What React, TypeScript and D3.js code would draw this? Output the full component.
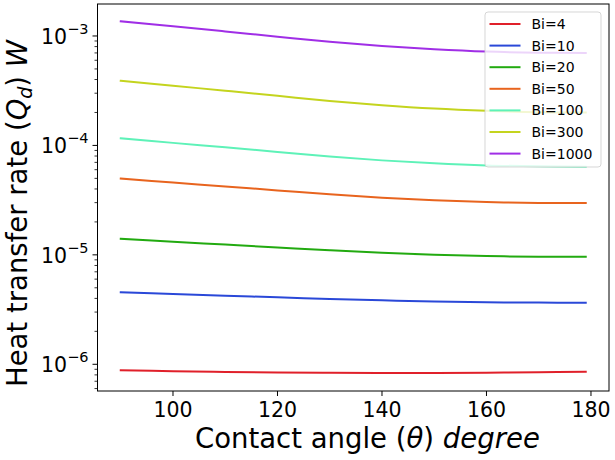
import * as d3 from 'd3'

const theta = [90, 100, 110, 120, 130, 140, 150, 160, 170, 179]

const bi4 = [8.8e-7, 8.65e-7, 8.52e-7, 8.43e-7, 8.37e-7, 8.34e-7, 8.34e-7, 8.37e-7, 8.45e-7, 8.55e-7]
const bi10 = [4.55e-6, 4.39e-6, 4.24e-6, 4.09e-6, 3.95e-6, 3.84e-6, 3.75e-6, 3.69e-6, 3.66e-6, 3.65e-6]
const bi20 = [1.4e-5, 1.318e-5, 1.242e-5, 1.168e-5, 1.1e-5, 1.043e-5, 1.0e-5, 9.74e-6, 9.63e-6, 9.6e-6]
const bi50 = [4.98e-5, 4.58e-5, 4.22e-5, 3.88e-5, 3.57e-5, 3.33e-5, 3.15e-5, 3.04e-5, 2.98e-5, 2.97e-5]
const bi100 = [1.16e-4, 1.055e-4, 9.6e-5, 8.72e-5, 7.9e-5, 7.3e-5, 6.86e-5, 6.57e-5, 6.44e-5, 6.4e-5]
const bi300 = [3.9e-4, 3.51e-4, 3.16e-4, 2.84e-4, 2.55e-4, 2.33e-4, 2.17e-4, 2.07e-4, 2.01e-4, 2.0e-4]
const bi1000 = [1.36e-3, 1.225e-3, 1.1e-3, 9.85e-4, 8.85e-4, 8.1e-4, 7.56e-4, 7.2e-4, 7.04e-4, 7.0e-4]

const seriesNames = ['Bi=4', 'Bi=10', 'Bi=20', 'Bi=50', 'Bi=100', 'Bi=300', 'Bi=1000']
const seriesValues = [bi4, bi10, bi20, bi50, bi100, bi300, bi1000]
const seriesColors = ['#e0202a', '#2a48d8', '#22aa10', '#e8641e', '#5ef2b8', '#c4d41e', '#a02ee6']

const xTicks = [100, 120, 140, 160, 180]
const yMajorExp = [-6, -5, -4, -3]

const App = () => {
  const width = 615
  const height = 460
  const margin = { left: 97.5, right: 6, top: 4, bottom: 69 }
  const FONT = 'DejaVu Sans, sans-serif'

  const x = d3.scaleLinear().domain([85.55, 183.45]).range([margin.left, width - margin.right])
  const y = d3
    .scaleLog()
    .domain([5.7e-7, 1.96e-3])
    .range([height - margin.bottom, margin.top])

  const line = d3
    .line<number>()
    .x((_, i) => x(theta[i]))
    .y((d) => y(d))
    .curve(d3.curveCatmullRom.alpha(0.5))

  // minor ticks 2..9 x 10^k inside the domain
  const minor: number[] = []
  for (let e = -7; e <= -3; e++) {
    for (let m = 2; m <= 9; m++) {
      const v = m * Math.pow(10, e)
      if (v >= y.domain()[0] && v <= y.domain()[1]) minor.push(v)
    }
  }

  const x0 = margin.left
  const x1 = width - margin.right
  const y0 = height - margin.bottom
  const y1 = margin.top

  const legX = 485
  const legY = 12
  const rowH = 21.6

  return (
    <svg
      width={width}
      height={height}
      style={{ position: 'absolute', left: 0, top: 0, background: '#fff' }}
      fontFamily={FONT}
    >
      <rect width={width} height={height} fill="#fff" />
      <g fill="none" strokeWidth={2} strokeLinecap="square">
        {seriesValues.map((vals, i) => (
          <path key={seriesNames[i]} d={line(vals) || ''} stroke={seriesColors[i]} />
        ))}
      </g>

      {/* legend */}
      <rect
        x={legX}
        y={legY}
        width={116}
        height={155}
        rx={3}
        fill="#fff"
        fillOpacity={0.8}
        stroke="#ccc"
        strokeOpacity={0.8}
      />
      {seriesNames.map((name, i) => (
        <g key={name} transform={`translate(${legX}, ${legY + 12 + i * rowH})`}>
          <line x1={4.5} x2={35.5} y1={0} y2={0} stroke={seriesColors[i]} strokeWidth={2} />
          <text x={46.5} y={5} fontSize={14} fill="#000">
            {name}
          </text>
        </g>
      ))}

      {/* frame */}
      <rect x={x0} y={y1} width={x1 - x0} height={y0 - y1} fill="none" stroke="#000" strokeWidth={1} />

      {/* x ticks */}
      {xTicks.map((t) => (
        <g key={t}>
          <line x1={x(t)} x2={x(t)} y1={y0} y2={y0 + 5} stroke="#000" />
          <text x={x(t)} y={y0 + 26} fontSize={20.5} textAnchor="middle" fill="#000">
            {t}
          </text>
        </g>
      ))}

      {/* y ticks */}
      {minor.map((v) => (
        <line key={v} x1={x0 - 3} x2={x0} y1={y(v)} y2={y(v)} stroke="#000" strokeWidth={0.8} />
      ))}
      {yMajorExp.map((e) => (
        <g key={e}>
          <line x1={x0 - 5} x2={x0} y1={y(Math.pow(10, e))} y2={y(Math.pow(10, e))} stroke="#000" />
          <text x={x0 - 9} y={y(Math.pow(10, e)) + 8} fontSize={20.5} textAnchor="end" fill="#000">
            10
            <tspan fontSize={14.5} dy={-10}>
              {'\u2212' + Math.abs(e)}
            </tspan>
          </text>
        </g>
      ))}

      {/* axis labels */}
      <text x={195} y={448} fontSize={27.5} fill="#000">
        Contact angle (<tspan fontStyle="italic">θ</tspan>) <tspan fontStyle="italic">degree</tspan>
      </text>
      <text transform={`translate(27, 387) rotate(-90)`} fontSize={27.5} fill="#000">
        Heat transfer rate (<tspan fontStyle="italic">Q</tspan>
        <tspan fontStyle="italic" fontSize={19} dy={5}>
          d
        </tspan>
        <tspan dy={-5}>)</tspan> <tspan fontStyle="italic">W</tspan>
      </text>
    </svg>
  )
}

export default App
